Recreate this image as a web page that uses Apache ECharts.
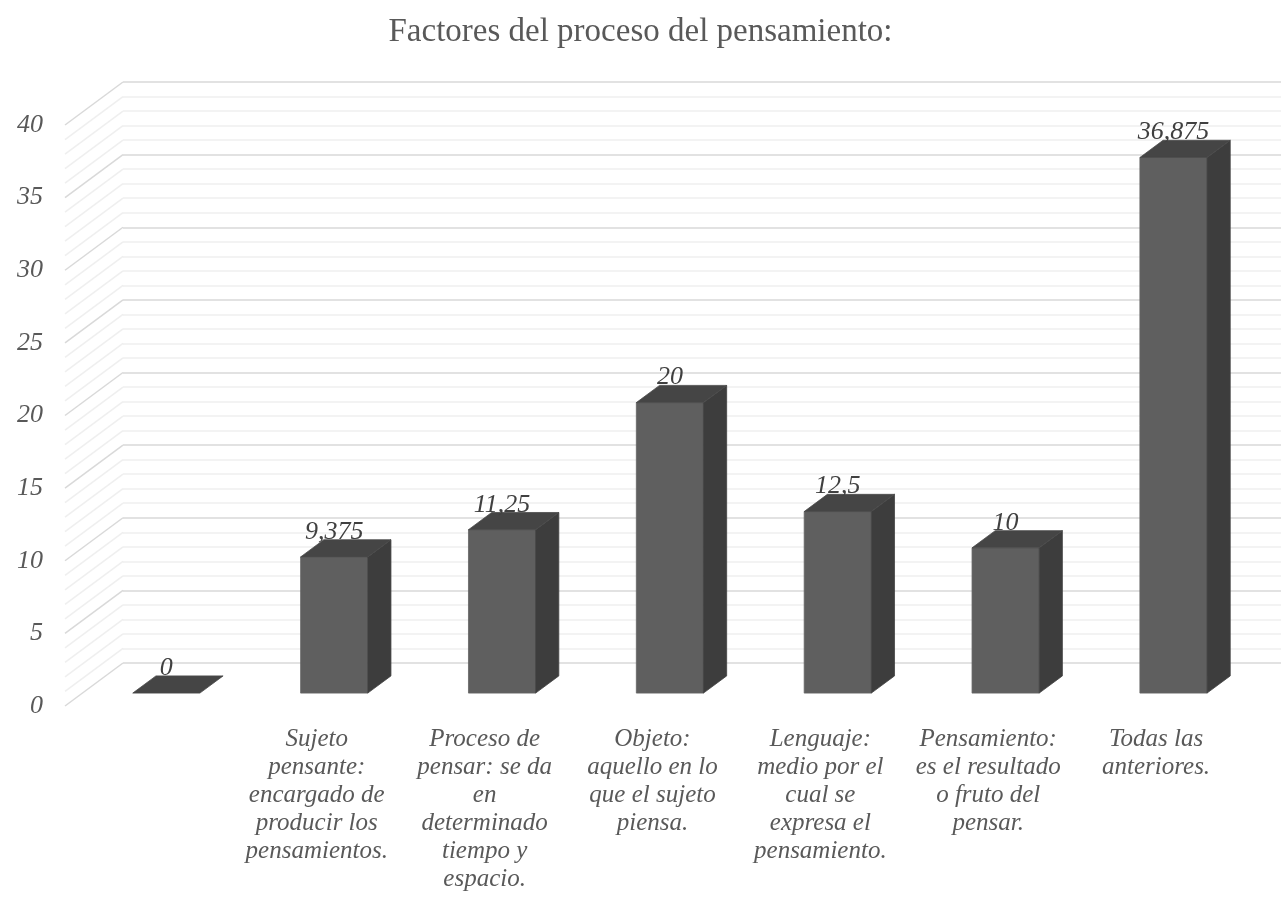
<!DOCTYPE html>
<html>
<head>
<meta charset="utf-8">
<title>Factores del proceso del pensamiento</title>
<script src="https://cdn.jsdelivr.net/npm/echarts@6/dist/echarts.min.js"></script>
<style>
  html, body { margin: 0; padding: 0; background: #ffffff; }
  #chart { width: 1281px; height: 904px; }
</style>
</head>
<body>
<div id="chart"></div>
<script>
// Categories (line breaks as laid out under each column)
const categories = [
  '',
  'Sujeto\npensante:\nencargado de\nproducir los\npensamientos.',
  'Proceso de\npensar: se da\nen\ndeterminado\ntiempo y\nespacio.',
  'Objeto:\naquello en lo\nque el sujeto\npiensa.',
  'Lenguaje:\nmedio por el\ncual se\nexpresa el\npensamiento.',
  'Pensamiento:\nes el resultado\no fruto del\npensar.',
  'Todas las\nanteriores.'
];
const values = [0, 9.375, 11.25, 20, 12.5, 10, 36.875];

// Value axis
const yMin = 0;
const yMax = 40;
const yInterval = 5;
const yMinorSplit = 5;
// Wall grid lines (one per unit, major every 5)
const wallTicks = [];
for (let t = yMin; t <= yMax; t += yInterval / yMinorSplit) wallTicks.push(t);

// Oblique projection of the floor depth (pixels)
const DEPTH_X = 58;
const DEPTH_Y = 43;
// Column occupies the middle of the floor depth
const BAR_FRONT = 0.3;
const BAR_BACK = 0.7;
const BAR_WIDTH_RATIO = 0.4;

// Front plane of the plot
const FRONT = { left: 65, top: 125, width: 1175, height: 581 };

const FONT = '"Liberation Serif", "Times New Roman", serif';
const AXIS_TEXT = '#595959';
const MAJOR_LINE = '#d9d9d9';
const MINOR_LINE = '#efefef';

const chart = echarts.init(document.getElementById('chart'), null, { renderer: 'canvas' });

function fmt(v) {
  return String(v).replace('.', ',');
}

function renderWallDiagonal(params, api) {
  const v = api.value(1);
  const p = api.coord([0, v]);
  const x0 = params.coordSys.x;
  const major = Math.abs(v / yInterval - Math.round(v / yInterval)) < 1e-9;
  return {
    type: 'line',
    shape: { x1: x0, y1: p[1], x2: x0 + DEPTH_X, y2: p[1] - DEPTH_Y },
    style: { stroke: major ? MAJOR_LINE : MINOR_LINE, lineWidth: 1.5 },
    silent: true
  };
}

function renderColumn(params, api) {
  const i = api.value(0);
  const v = api.value(1);
  const base = api.coord([i, 0]);
  const top = api.coord([i, v]);
  const band = api.size([1, 0])[0];
  const w = band * BAR_WIDTH_RATIO;
  const dx = DEPTH_X * (BAR_BACK - BAR_FRONT);
  const dy = DEPTH_Y * (BAR_BACK - BAR_FRONT);
  const xl = base[0] - w / 2;
  const xr = base[0] + w / 2;
  const yt = top[1];
  const yb = base[1];
  const children = [];
  if (yb - yt > 0.01) {
    children.push({
      type: 'rect',
      shape: { x: xl, y: yt, width: w, height: yb - yt },
      style: { fill: '#5f5f5f', stroke: '#656565', lineWidth: 0.8 }
    });
    children.push({
      type: 'polygon',
      shape: { points: [[xr, yt], [xr + dx, yt - dy], [xr + dx, yb - dy], [xr, yb]] },
      style: { fill: '#3d3d3d', stroke: '#434343', lineWidth: 0.8 }
    });
  }
  children.push({
    type: 'polygon',
    shape: { points: [[xl, yt], [xl + dx, yt - dy], [xr + dx, yt - dy], [xr, yt]] },
    style: { fill: '#454545', stroke: '#4a4a4a', lineWidth: 0.8 }
  });
  children.push({
    type: 'text',
    style: {
      x: base[0],
      y: yt - 25,
      text: fmt(v),
      fill: '#404040',
      font: 'italic 26px ' + FONT,
      align: 'center',
      verticalAlign: 'middle'
    }
  });
  return { type: 'group', children: children };
}

const option = {
  backgroundColor: '#ffffff',
  animation: false,
  title: {
    text: 'Factores del proceso del pensamiento:',
    left: 'center',
    top: 11,
    textStyle: { fontFamily: FONT, fontSize: 33, fontWeight: 'normal', color: '#595959' }
  },
  grid: [
    // front plane: axis labels
    { left: FRONT.left, top: FRONT.top, width: FRONT.width, height: FRONT.height },
    // column front faces
    { left: FRONT.left + DEPTH_X * BAR_FRONT, top: FRONT.top - DEPTH_Y * BAR_FRONT, width: FRONT.width, height: FRONT.height },
    // back wall
    { left: FRONT.left + DEPTH_X, top: FRONT.top - DEPTH_Y, right: 0, height: FRONT.height }
  ],
  xAxis: [
    {
      gridIndex: 0, type: 'category', data: categories,
      axisLine: { show: false }, axisTick: { show: false },
      axisLabel: {
        interval: 0, margin: 19, color: AXIS_TEXT,
        fontFamily: FONT, fontStyle: 'italic', fontSize: 25, lineHeight: 28, align: 'center'
      }
    },
    { gridIndex: 1, type: 'category', data: categories, show: false },
    { gridIndex: 2, type: 'category', data: categories, show: false }
  ],
  yAxis: [
    {
      gridIndex: 0, type: 'value', min: yMin, max: yMax, interval: yInterval,
      axisLine: { show: false }, axisTick: { show: false }, splitLine: { show: false },
      axisLabel: { margin: 22, color: AXIS_TEXT, fontFamily: FONT, fontStyle: 'italic', fontSize: 26 }
    },
    { gridIndex: 1, type: 'value', min: yMin, max: yMax, interval: yInterval, show: false },
    {
      gridIndex: 2, type: 'value', min: yMin, max: yMax, interval: yInterval,
      axisLine: { show: false }, axisTick: { show: false }, axisLabel: { show: false },
      splitLine: { show: true, lineStyle: { color: MAJOR_LINE, width: 1.5 } },
      minorTick: { show: false, splitNumber: yMinorSplit },
      minorSplitLine: { show: true, lineStyle: { color: MINOR_LINE, width: 1.5 } }
    }
  ],
  series: [
    {
      name: 'pared',
      type: 'custom',
      xAxisIndex: 0, yAxisIndex: 0,
      renderItem: renderWallDiagonal,
      encode: { x: 0, y: 1 },
      data: wallTicks.map(t => [0, t]),
      silent: true,
      z: 1
    },
    {
      name: 'Factores',
      type: 'custom',
      xAxisIndex: 1, yAxisIndex: 1,
      renderItem: renderColumn,
      encode: { x: 0, y: 1 },
      data: values.map((v, i) => [i, v]),
      z: 5
    }
  ]
};

chart.setOption(option);
</script>
</body>
</html>
